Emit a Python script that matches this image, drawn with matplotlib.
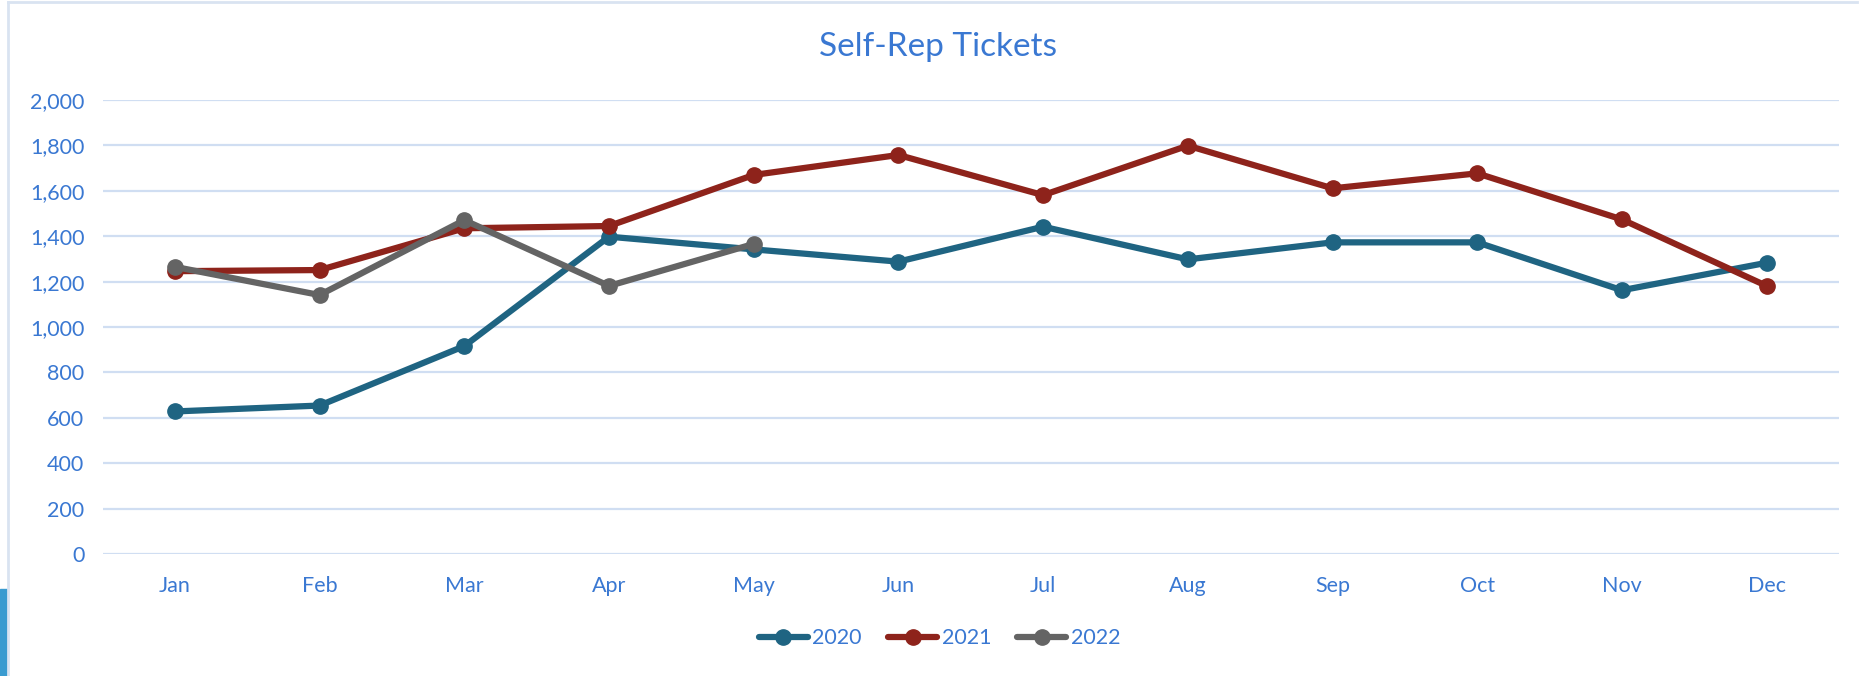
import matplotlib.pyplot as plt
from matplotlib.patches import Rectangle
from matplotlib.lines import Line2D
from matplotlib.ticker import FuncFormatter

months = ['Jan', 'Feb', 'Mar', 'Apr', 'May', 'Jun', 'Jul', 'Aug', 'Sep', 'Oct', 'Nov', 'Dec']
tickets_2020 = [628, 654, 916, 1398, 1342, 1288, 1442, 1298, 1373, 1373, 1162, 1283]
tickets_2021 = [1246, 1251, 1435, 1445, 1670, 1758, 1581, 1799, 1611, 1677, 1474, 1181]
tickets_2022 = [1265, 1141, 1471, 1181, 1366]

years = ['2020', '2021', '2022']
colors = ['#1F6482', '#8E231B', '#646464']
txt = '#3A78D2'

plt.rcParams['font.family'] = ['Lato', 'DejaVu Sans']

fig = plt.figure(figsize=(18.64, 6.76), dpi=100)
ax = fig.add_axes([0.055, 0.1805, 0.9316, 0.6715])

x = list(range(len(months)))
for vals, c, lab in zip([tickets_2020, tickets_2021, tickets_2022], colors, years):
    ax.plot(x[:len(vals)], vals, color=c, lw=4.5, marker='o', ms=11,
            solid_capstyle='round', label=lab, zorder=3)

ax.set_xlim(-0.5, 11.5)
ax.set_ylim(0, 2000)
ax.set_yticks(range(0, 2001, 200))
ax.yaxis.set_major_formatter(FuncFormatter(lambda v, p: '{:,.0f}'.format(v)))
ax.set_xticks(x)
ax.set_xticklabels(months)
ax.grid(axis='y', color='#D0DEF2', lw=1.6, zorder=0)
ax.set_axisbelow(True)
for s in ax.spines.values():
    s.set_visible(False)
ax.tick_params(length=0, labelsize=15.5, labelcolor=txt)
ax.tick_params(axis='x', pad=16)
ax.tick_params(axis='y', pad=13)

fig.suptitle('Self-Rep Tickets', x=0.503, y=0.952, va='top', fontsize=24, color=txt)

handles = [Line2D([0], [0], color=c, lw=4.5, marker='o', ms=11, solid_capstyle='round')
           for c in colors]
fig.legend(handles, years, loc='center', bbox_to_anchor=(0.504, 0.056), ncol=3,
           frameon=False, fontsize=15.5, labelcolor=txt, handlelength=2.3,
           handletextpad=0.2, columnspacing=1.2)

# frame and left accent
fig.add_artist(Line2D([0.0043, 0.996], [0.997, 0.997], color='#D9E3F1', lw=2, transform=fig.transFigure))
fig.add_artist(Line2D([0.0043, 0.0043], [0, 0.997], color='#D9E3F1', lw=2, transform=fig.transFigure))
fig.add_artist(Rectangle((0, 0), 0.0038, 0.129, color='#3A9BD0', transform=fig.transFigure))

fig.savefig('out.png', dpi=100)
